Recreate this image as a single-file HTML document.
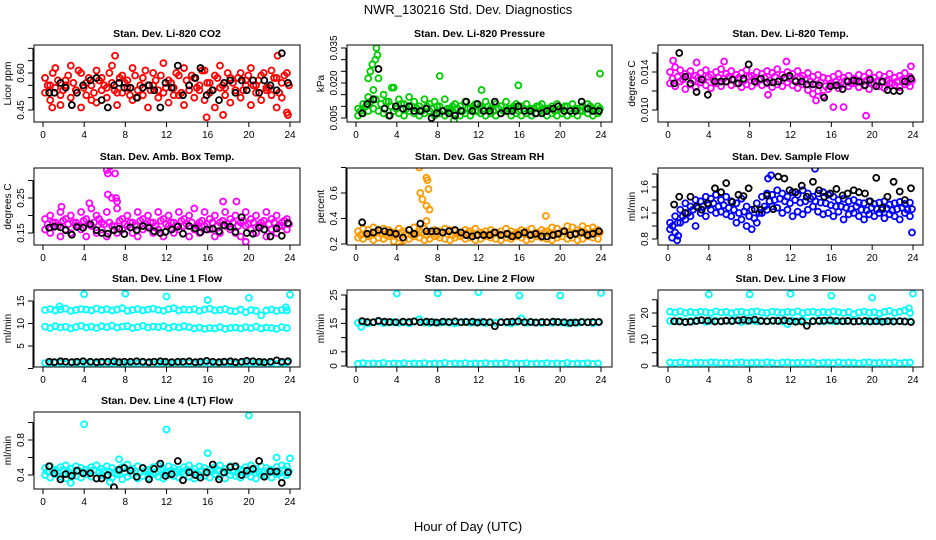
<!DOCTYPE html>
<html>
<head>
<meta charset="utf-8">
<style>
  html,body{margin:0;padding:0;background:#fff;}
  svg{display:block;font-family:"Liberation Sans",Arial,sans-serif;}
</style>
</head>
<body>
<svg id="chart" width="936" height="540" viewBox="0 0 936 540" xmlns="http://www.w3.org/2000/svg">
  <text x="468" y="14" text-anchor="middle" font-size="13">NWR_130216  Std. Dev. Diagnostics</text>
  <text x="468" y="531" text-anchor="middle" font-size="13">Hour of Day (UTC)</text>
</svg>
<script>
// shared hour arrays
const hoursC = [0.2,0.7,1.2,1.7,2.2,2.7,3.2,3.7,4.2,4.7,5.2,5.7,6.2,6.7,7.2,7.7,8.2,8.7,9.2,9.7,10.2,10.7,11.2,11.7,12.2,12.7,13.2,13.7,14.2,14.7,15.2,15.7,16.2,16.7,17.2,17.7,18.2,18.7,19.2,19.7,20.2,20.7,21.2,21.7,22.2,22.7,23.2,23.7];
const hoursM = [0.45,0.95,1.45,1.95,2.45,2.95,3.45,3.95,4.45,4.95,5.45,5.95,6.45,6.95,7.45,7.95,8.45,8.95,9.45,9.95,10.45,10.95,11.45,11.95,12.45,12.95,13.45,13.95,14.45,14.95,15.45,15.95,16.45,16.95,17.45,17.95,18.45,18.95,19.45,19.95,20.45,20.95,21.45,21.95,22.45,22.95,23.45,23.9];
const hoursK = [0.6,1.1,1.7,2.2,2.8,3.3,3.9,4.6,5.2,5.7,6.3,6.9,7.4,7.9,8.5,9.1,9.7,10.3,10.8,11.4,11.9,12.5,13.1,13.6,14.2,14.8,15.3,15.9,16.5,17.1,17.6,18.2,18.7,19.3,19.8,20.4,21.0,21.5,22.1,22.7,23.2,23.8];
const xTicks = [0,4,8,12,16,20,24];

// Panel 1: CO2
const co2A = [0.58,0.55,0.62,0.51,0.57,0.63,0.53,0.60,0.56,0.49,0.61,0.58,0.54,0.63,0.52,0.59,0.57,0.62,0.50,0.58,0.55,0.60,0.53,0.64,0.57,0.51,0.59,0.62,0.55,0.58,0.53,0.61,0.56,0.59,0.63,0.54,0.58,0.52,0.60,0.57,0.62,0.55,0.59,0.53,0.61,0.58,0.56,0.60];
const co2B = [0.52,0.49,0.54,0.47,0.55,0.50,0.53,0.46,0.51,0.55,0.48,0.53,0.50,0.56,0.47,0.52,0.54,0.49,0.53,0.51,0.46,0.55,0.50,0.52,0.48,0.54,0.51,0.47,0.53,0.50,0.55,0.49,0.52,0.46,0.54,0.51,0.48,0.53,0.50,0.55,0.47,0.52,0.49,0.54,0.51,0.46,0.50,0.44];
const co2M = [0.55,0.60,0.57,0.53,0.59,0.56,0.61,0.54,0.58,0.52,0.57,0.55,0.60,0.53,0.58,0.56,0.51,0.59,0.55,0.61,0.53,0.57,0.59,0.54,0.56,0.60,0.52,0.57,0.59,0.54,0.61,0.56,0.53,0.58,0.55,0.60,0.56,0.58,0.53,0.59,0.55,0.57,0.60,0.54,0.58,0.52,0.59,0.55];
const co2K = [0.52,0.52,0.56,0.54,0.47,0.52,0.55,0.57,0.58,0.49,0.46,0.55,0.56,0.54,0.54,0.50,0.54,0.55,0.53,0.46,0.56,0.54,0.63,0.51,0.55,0.58,0.62,0.51,0.53,0.49,0.56,0.57,0.52,0.57,0.53,0.57,0.52,0.57,0.55,0.53,0.68,0.56];
const co2OH = [7.0,22.8,15.9,23.8,17.5,0.9];
const co2OV = [0.67,0.67,0.42,0.43,0.43,0.46];
const co2Ticks = [0.45,0.50,0.55,0.60,0.65,0.70];
const co2Labels = ["0.45","","","0.60","",""];

// Panel 2: Pressure
const prA = [0.009,0.011,0.014,0.017,0.022,0.015,0.012,0.018,0.013,0.011,0.014,0.012,0.010,0.013,0.011,0.012,0.010,0.013,0.009,0.011,0.010,0.012,0.009,0.011,0.010,0.012,0.009,0.011,0.010,0.012,0.009,0.011,0.010,0.011,0.009,0.010,0.011,0.009,0.010,0.011,0.009,0.010,0.011,0.009,0.010,0.011,0.009,0.010];
const prB = [0.006,0.007,0.008,0.009,0.008,0.007,0.006,0.008,0.007,0.006,0.008,0.007,0.006,0.007,0.008,0.006,0.007,0.006,0.008,0.007,0.006,0.007,0.006,0.008,0.007,0.006,0.007,0.006,0.007,0.008,0.006,0.007,0.006,0.007,0.006,0.007,0.008,0.006,0.007,0.006,0.007,0.006,0.007,0.006,0.008,0.007,0.006,0.007];
const prM = [0.008,0.010,0.012,0.013,0.011,0.012,0.010,0.009,0.011,0.009,0.010,0.009,0.008,0.010,0.009,0.010,0.008,0.009,0.010,0.009,0.008,0.009,0.010,0.008,0.009,0.010,0.008,0.009,0.008,0.009,0.010,0.008,0.009,0.008,0.009,0.010,0.008,0.009,0.008,0.009,0.010,0.008,0.009,0.008,0.009,0.010,0.008,0.009];
const prK = [0.007,0.011,0.013,0.026,0.009,0.006,0.010,0.009,0.010,0.008,0.008,0.009,0.005,0.007,0.008,0.007,0.006,0.008,0.012,0.008,0.011,0.008,0.008,0.012,0.007,0.008,0.008,0.010,0.008,0.008,0.007,0.007,0.008,0.009,0.010,0.008,0.008,0.008,0.012,0.009,0.008,0.008];
const prOH = [1.2,1.6,2.0,1.9,3.5,8.2,12.3,15.9,23.9,2.1,1.4,9.6];
const prOV = [0.022,0.028,0.035,0.030,0.018,0.023,0.017,0.019,0.024,0.032,0.025,0.004];
const prTicks = [0.005,0.010,0.015,0.020,0.025,0.030,0.035];
const prLabels = ["0.005","","","0.020","","","0.035"];

// Panel 3: Li-820 Temp
const tpA = [0.0140,0.0145,0.0142,0.0138,0.0141,0.0136,0.0139,0.0142,0.0137,0.0140,0.0143,0.0138,0.0141,0.0137,0.0139,0.0142,0.0136,0.0140,0.0138,0.0141,0.0139,0.0143,0.0137,0.0140,0.0138,0.0141,0.0136,0.0139,0.0135,0.0137,0.0134,0.0133,0.0135,0.0138,0.0134,0.0136,0.0133,0.0137,0.0135,0.0139,0.0134,0.0137,0.0135,0.0138,0.0134,0.0136,0.0139,0.0135];
const tpB = [0.0128,0.0125,0.0130,0.0122,0.0127,0.0124,0.0129,0.0126,0.0123,0.0128,0.0125,0.0130,0.0126,0.0128,0.0124,0.0127,0.0125,0.0129,0.0126,0.0128,0.0124,0.0127,0.0125,0.0129,0.0126,0.0123,0.0127,0.0121,0.0117,0.0120,0.0115,0.0122,0.0126,0.0123,0.0127,0.0125,0.0128,0.0124,0.0126,0.0122,0.0127,0.0125,0.0123,0.0128,0.0126,0.0124,0.0127,0.0125];
const tpM = [0.0133,0.0135,0.0132,0.0136,0.0131,0.0134,0.0132,0.0135,0.0131,0.0134,0.0133,0.0135,0.0132,0.0134,0.0131,0.0135,0.0133,0.0132,0.0134,0.0131,0.0135,0.0132,0.0134,0.0133,0.0131,0.0134,0.0132,0.0130,0.0127,0.0129,0.0125,0.0128,0.0130,0.0129,0.0131,0.0128,0.0130,0.0129,0.0131,0.0128,0.0130,0.0129,0.0131,0.0128,0.0130,0.0132,0.0129,0.0131];
const tpK = [0.0128,0.0160,0.0135,0.0128,0.0119,0.0132,0.0116,0.0130,0.0130,0.0130,0.0132,0.0128,0.0133,0.0148,0.0130,0.0133,0.0129,0.0129,0.0130,0.0134,0.0136,0.0130,0.0130,0.0127,0.0127,0.0126,0.0113,0.0125,0.0126,0.0122,0.0130,0.0131,0.0130,0.0126,0.0132,0.0125,0.0130,0.0121,0.0120,0.0120,0.0130,0.0133];
const tpOH = [0.5,2.8,5.5,11.6,16.2,17.2,19.4,14.5,9.8,23.8];
const tpOV = [0.0152,0.0150,0.0151,0.0151,0.0103,0.0103,0.0094,0.0110,0.0116,0.0146];
const tpTicks = [0.010,0.012,0.014,0.016];
const tpLabels = ["0.010","","0.014",""];

// Panel 4: Amb Box Temp
const abA = [0.19,0.20,0.18,0.21,0.19,0.20,0.18,0.21,0.19,0.22,0.20,0.18,0.21,0.25,0.22,0.19,0.20,0.18,0.21,0.19,0.20,0.18,0.21,0.19,0.20,0.18,0.21,0.19,0.20,0.22,0.18,0.21,0.19,0.20,0.18,0.21,0.19,0.20,0.18,0.21,0.19,0.20,0.18,0.21,0.19,0.20,0.18,0.19];
const abB = [0.16,0.15,0.17,0.14,0.16,0.15,0.17,0.16,0.14,0.17,0.15,0.16,0.14,0.17,0.15,0.16,0.17,0.15,0.14,0.16,0.17,0.15,0.16,0.14,0.17,0.15,0.16,0.17,0.14,0.16,0.15,0.17,0.16,0.14,0.15,0.17,0.16,0.15,0.14,0.17,0.16,0.15,0.17,0.14,0.16,0.15,0.17,0.16];
const abM = [0.175,0.18,0.17,0.185,0.175,0.18,0.17,0.185,0.175,0.18,0.19,0.175,0.18,0.17,0.185,0.175,0.18,0.17,0.185,0.175,0.18,0.17,0.185,0.175,0.18,0.17,0.185,0.175,0.18,0.17,0.185,0.175,0.18,0.17,0.185,0.175,0.18,0.17,0.185,0.175,0.18,0.17,0.185,0.175,0.18,0.17,0.185,0.175];
const abK = [0.165,0.168,0.166,0.158,0.145,0.167,0.165,0.175,0.158,0.150,0.148,0.158,0.162,0.147,0.166,0.158,0.170,0.165,0.155,0.150,0.153,0.160,0.168,0.148,0.170,0.163,0.152,0.160,0.162,0.155,0.172,0.168,0.153,0.195,0.150,0.148,0.165,0.160,0.140,0.163,0.142,0.178];
const abOH = [6.2,6.3,6.5,7.0,7.1,7.2,6.3,17.5,18.8,4.5,1.8,19.7];
const abOV = [0.33,0.32,0.34,0.32,0.25,0.24,0.26,0.24,0.24,0.235,0.225,0.125];
const abTicks = [0.15,0.20,0.25,0.30];
const abLabels = ["0.15","","0.25",""];

// Panel 5: Gas Stream RH
const rhA = [0.30,0.32,0.31,0.33,0.30,0.32,0.31,0.29,0.32,0.30,0.31,0.33,0.30,0.32,0.29,0.31,0.30,0.32,0.31,0.30,0.29,0.31,0.30,0.32,0.29,0.30,0.31,0.29,0.30,0.32,0.30,0.29,0.31,0.30,0.32,0.29,0.31,0.30,0.33,0.32,0.30,0.34,0.33,0.31,0.34,0.32,0.33,0.31];
const rhB = [0.25,0.24,0.26,0.23,0.25,0.24,0.26,0.22,0.25,0.23,0.24,0.26,0.25,0.23,0.24,0.26,0.25,0.24,0.23,0.25,0.26,0.24,0.25,0.23,0.24,0.26,0.25,0.24,0.23,0.25,0.24,0.26,0.25,0.23,0.24,0.26,0.25,0.24,0.23,0.25,0.26,0.24,0.25,0.23,0.24,0.26,0.25,0.24];
const rhM = [0.27,0.28,0.27,0.29,0.28,0.27,0.28,0.27,0.29,0.28,0.27,0.28,0.29,0.27,0.28,0.27,0.29,0.28,0.27,0.28,0.27,0.29,0.28,0.27,0.28,0.27,0.29,0.28,0.27,0.28,0.27,0.29,0.28,0.27,0.28,0.27,0.29,0.28,0.27,0.28,0.30,0.29,0.28,0.30,0.29,0.28,0.30,0.29];
const rhK = [0.37,0.28,0.29,0.31,0.30,0.29,0.28,0.25,0.31,0.28,0.36,0.30,0.30,0.30,0.29,0.30,0.31,0.29,0.27,0.26,0.27,0.27,0.27,0.29,0.27,0.28,0.26,0.27,0.29,0.27,0.28,0.26,0.26,0.27,0.28,0.30,0.27,0.28,0.29,0.27,0.28,0.30];
const rhOH = [6.2,6.3,6.5,6.9,7.0,7.1,6.9,7.2,6.9,18.6,4.4];
const rhOV = [0.80,0.60,0.55,0.72,0.70,0.63,0.50,0.47,0.38,0.42,0.18];
const rhTicks = [0.2,0.4,0.6,0.8];
const rhLabels = ["0.2","0.4","0.6",""];

// Panel 6: Sample Flow
const sfA = [1.05,1.15,1.25,1.35,1.30,1.40,1.38,1.45,1.42,1.48,1.40,1.45,1.38,1.35,1.42,1.30,1.25,1.35,1.45,1.50,1.48,1.55,1.50,1.45,1.52,1.48,1.55,1.50,1.45,1.50,1.52,1.48,1.45,1.40,1.42,1.38,1.40,1.36,1.35,1.38,1.34,1.36,1.38,1.33,1.35,1.37,1.34,1.36];
const sfB = [0.95,0.90,1.05,1.10,1.15,1.00,1.20,1.15,1.25,1.20,1.22,1.18,1.15,1.05,1.10,1.00,0.95,1.05,1.20,1.25,1.30,1.28,1.20,1.25,1.15,1.22,1.18,1.25,1.30,1.22,1.18,1.20,1.15,1.22,1.10,1.18,1.20,1.15,1.10,1.18,1.15,1.20,1.12,1.18,1.15,1.10,1.20,1.15];
const sfM = [1.00,1.05,1.15,1.20,1.25,1.28,1.30,1.32,1.35,1.30,1.32,1.28,1.25,1.20,1.22,1.15,1.12,1.20,1.30,1.38,1.40,1.42,1.38,1.35,1.40,1.36,1.38,1.42,1.38,1.36,1.35,1.32,1.30,1.30,1.28,1.26,1.30,1.25,1.24,1.28,1.26,1.25,1.27,1.24,1.26,1.28,1.25,1.26];
const sfK = [1.33,1.45,1.20,1.45,1.30,1.25,1.35,1.58,1.52,1.66,1.37,1.48,1.46,1.58,1.26,1.25,1.47,1.26,1.76,1.73,1.55,1.52,1.62,1.45,1.68,1.55,1.45,1.50,1.57,1.47,1.50,1.55,1.52,1.50,1.38,1.74,1.28,1.45,1.68,1.53,1.40,1.58];
const sfOH = [14.4,0.4,1.0,0.9,9.8,10.1,23.9];
const sfOV = [1.88,0.82,0.85,0.78,1.73,1.78,0.90];
const sfTicks = [0.8,1.0,1.2,1.4,1.6,1.8];
const sfLabels = ["0.8","","1.2","","1.6",""];

// Panel 7: Line 1 Flow
const l1A = [13.0,13.2,12.9,13.1,13.3,12.8,13.0,13.2,13.1,12.9,13.3,13.0,13.2,12.9,13.1,13.4,12.8,13.0,13.2,12.9,13.1,13.3,13.0,12.8,13.2,13.4,12.9,13.1,13.0,13.2,12.8,13.1,13.3,12.9,13.0,13.2,12.8,12.7,13.1,12.5,13.0,12.8,11.8,12.9,13.1,12.8,13.0,12.9];
const l1B = [9.3,9.0,9.4,9.1,9.3,8.9,9.2,9.5,9.1,9.3,9.0,9.4,9.2,9.5,9.1,9.3,9.4,9.0,9.2,9.5,9.1,9.3,9.2,9.4,9.0,9.3,9.1,9.4,9.2,8.9,9.1,8.8,9.0,8.9,9.2,8.8,9.0,9.1,8.9,9.2,9.0,9.3,8.9,9.1,9.0,8.8,9.2,9.0];
const l1C = [1.2,1.1,1.3,1.2,1.0,1.3,1.2,1.1,1.2,1.3,1.1,1.2,1.0,1.2,1.3,1.1,1.2,1.2,1.1,1.3,1.2,1.0,1.2,1.3,1.1,1.2,1.3,1.1,1.2,1.0,1.2,1.3,1.1,1.2,1.1,1.3,1.2,1.0,1.2,1.3,1.1,1.2,1.3,1.1,1.2,1.0,1.2,1.3];
const l1K = [1.5,1.4,1.6,1.5,1.4,1.5,1.6,1.5,1.4,1.5,1.5,1.6,1.4,1.5,1.5,1.6,1.5,1.4,1.5,1.6,1.5,1.4,1.5,1.5,1.6,1.4,1.5,1.7,1.5,1.4,1.5,1.6,1.4,1.5,1.7,1.6,1.5,1.4,1.5,1.8,1.5,1.6];
const l1OH = [4,8,12,16,20,24,1.6,23.6];
const l1OV = [16.5,16.6,16.0,15.2,15.7,16.4,13.8,13.6];
const l1Ticks = [0,5,10,15];
const l1Labels = ["","5","10","15"];

// Panel 8: Line 2 Flow
const l2A = [15.2,15.5,15.0,15.4,15.6,15.1,15.3,15.5,15.2,15.4,15.0,15.6,16.5,15.3,15.1,15.4,15.2,15.5,15.3,15.0,15.4,15.6,15.2,15.3,15.5,15.1,15.4,15.2,15.5,15.3,15.0,15.4,16.8,15.2,15.5,15.3,15.1,15.4,15.2,15.5,15.3,15.0,15.4,15.2,15.5,15.3,15.1,15.4];
const l2B = [0.8,1.0,0.7,0.9,0.8,1.1,0.7,0.9,0.8,1.0,0.7,0.9,0.8,1.0,0.7,0.9,0.8,1.1,0.7,0.9,0.8,1.0,0.7,0.9,0.8,1.0,0.7,0.9,0.8,1.1,0.7,0.9,0.8,1.0,0.7,0.9,0.8,1.0,0.7,0.9,0.8,1.1,0.7,0.9,0.8,1.0,0.7,0.9];
const l2K = [15.8,15.5,15.4,15.9,15.6,15.5,15.4,15.6,15.5,15.7,15.4,15.6,15.5,15.3,15.6,15.5,15.7,15.4,15.5,15.6,15.3,15.5,15.4,14.0,15.4,15.5,15.6,15.7,15.4,15.5,15.3,15.5,15.4,15.6,15.5,15.4,15.2,15.3,15.5,15.4,15.5,15.5];
const l2OH = [4,8,12,16,20,24,0.5];
const l2OV = [25.5,25.6,26.0,24.8,24.8,25.7,13.8];
const l2Ticks = [0,5,10,15,20,25];
const l2Labels = ["0","5","","15","","25"];

// Panel 9: Line 3 Flow
const l3A = [20.5,20.2,20.6,20.0,20.4,20.1,20.5,20.3,20.0,20.6,20.2,20.4,19.9,20.3,20.5,20.1,20.4,20.6,20.2,20.0,20.5,20.3,20.1,20.4,20.2,20.6,20.0,20.3,20.5,20.1,20.4,20.2,20.6,20.3,20.0,20.4,19.5,20.2,20.5,20.1,20.3,19.8,20.4,20.8,20.1,20.5,21.0,20.0];
const l3B = [17.0,16.8,17.2,16.5,17.1,16.9,17.3,16.7,17.0,17.2,16.8,17.1,16.9,17.3,16.6,17.0,17.2,16.8,17.1,16.9,17.0,17.2,16.8,15.8,17.1,16.9,17.3,16.7,17.0,17.2,16.8,17.1,16.9,17.0,16.8,17.1,16.9,17.0,16.7,17.1,16.9,17.0,16.8,17.1,16.9,17.0,16.8,16.9];
const l3C = [1.3,1.1,1.4,1.2,1.0,1.3,1.2,1.1,1.4,1.3,1.1,1.2,1.0,1.3,1.4,1.1,1.2,1.3,1.1,1.4,1.2,1.0,1.3,1.4,1.1,1.2,1.3,1.1,1.4,1.0,1.2,1.3,1.1,1.4,1.1,1.3,1.2,1.0,1.3,1.4,1.1,1.2,1.3,1.1,1.4,1.0,1.2,1.3];
const l3K = [16.9,16.8,16.6,16.7,17.0,17.3,17.1,16.8,16.9,17.1,17.0,17.2,17.4,17.1,17.5,17.0,16.9,17.1,17.0,17.2,16.9,16.7,16.8,15.2,16.9,17.0,17.1,17.2,17.0,16.9,17.0,16.8,16.9,17.0,16.8,16.9,16.7,16.9,16.8,16.9,16.8,16.6];
const l3OH = [4,8,12,16,20,24,23.6];
const l3OV = [27.0,27.0,27.2,26.5,25.8,27.3,21.8];
const l3Ticks = [0,5,10,15,20,25];
const l3Labels = ["0","","10","","20",""];

// Panel 10: Line 4 (LT) Flow
const l4A = [0.48,0.50,0.46,0.49,0.51,0.47,0.50,0.48,0.46,0.49,0.51,0.47,0.50,0.48,0.46,0.49,0.52,0.47,0.50,0.48,0.46,0.49,0.51,0.47,0.50,0.48,0.46,0.49,0.51,0.47,0.50,0.48,0.46,0.49,0.51,0.47,0.50,0.48,0.46,0.49,0.51,0.47,0.50,0.48,0.46,0.49,0.51,0.50];
const l4B = [0.40,0.37,0.41,0.38,0.36,0.40,0.39,0.37,0.41,0.38,0.36,0.40,0.39,0.37,0.41,0.35,0.38,0.40,0.36,0.39,0.37,0.41,0.38,0.36,0.40,0.39,0.37,0.41,0.38,0.36,0.40,0.39,0.37,0.41,0.38,0.36,0.40,0.39,0.37,0.41,0.38,0.36,0.40,0.39,0.37,0.41,0.38,0.40];
const l4M = [0.44,0.45,0.43,0.46,0.44,0.42,0.45,0.43,0.44,0.46,0.43,0.45,0.44,0.42,0.45,0.43,0.46,0.44,0.43,0.45,0.44,0.42,0.46,0.43,0.45,0.44,0.43,0.46,0.44,0.42,0.45,0.43,0.44,0.46,0.43,0.45,0.44,0.42,0.45,0.43,0.46,0.44,0.43,0.45,0.44,0.42,0.46,0.44];
const l4K = [0.50,0.42,0.35,0.41,0.39,0.45,0.42,0.42,0.36,0.36,0.40,0.26,0.46,0.48,0.45,0.38,0.48,0.35,0.47,0.53,0.39,0.41,0.56,0.34,0.43,0.40,0.37,0.43,0.52,0.35,0.43,0.49,0.50,0.40,0.45,0.47,0.56,0.38,0.44,0.44,0.31,0.43];
const l4OH = [4,12,20,16,22.7,7.4,24,2.7,6.5];
const l4OV = [0.98,0.92,1.08,0.65,0.60,0.58,0.59,0.31,0.32];
const l4Ticks = [0.4,0.6,0.8,1.0];
const l4Labels = ["0.4","","0.8",""];

const cols = [{L:34,R:300,x0:43,x24:290},{L:347,R:612,x0:356,x24:601},{L:658,R:923,x0:668,x24:913}];
const rowTops = [45,168,290,412];
const boxH = 77;

const panels = [
 {name:"co2",title:"Stan. Dev. Li-820 CO2",ylab:"Licor ppm",col:0,row:0,color:"#ff0000",series:[[hoursC,co2A],[hoursC,co2B],[hoursM,co2M]],k:co2K,oh:co2OH,ov:co2OV,ticks:co2Ticks,labels:co2Labels,ref:[0.45,110,0.60,73]},
 {name:"pressure",title:"Stan. Dev. Li-820 Pressure",ylab:"kPa",col:1,row:0,color:"#00cd00",series:[[hoursC,prA],[hoursC,prB],[hoursM,prM]],k:prK,oh:prOH,ov:prOV,ticks:prTicks,labels:prLabels,ref:[0.005,118,0.035,48]},
 {name:"li820-temp",title:"Stan. Dev. Li-820 Temp.",ylab:"degrees C",col:2,row:0,color:"#ff00ff",series:[[hoursC,tpA],[hoursC,tpB],[hoursM,tpM]],k:tpK,oh:tpOH,ov:tpOV,ticks:tpTicks,labels:tpLabels,ref:[0.010,110,0.014,72]},
 {name:"amb-box-temp",title:"Stan. Dev. Amb. Box Temp.",ylab:"degrees C",col:0,row:1,color:"#ff00ff",series:[[hoursC,abA],[hoursC,abB],[hoursM,abM]],k:abK,oh:abOH,ov:abOV,ticks:abTicks,labels:abLabels,ref:[0.15,233,0.25,198]},
 {name:"gas-stream-rh",title:"Stan. Dev. Gas Stream RH",ylab:"percent",col:1,row:1,color:"#ff9a00",series:[[hoursC,rhA],[hoursC,rhB],[hoursM,rhM]],k:rhK,oh:rhOH,ov:rhOV,ticks:rhTicks,labels:rhLabels,ref:[0.2,244,0.6,193]},
 {name:"sample-flow",title:"Stan. Dev. Sample Flow",ylab:"ml/min",col:2,row:1,color:"#0000ff",series:[[hoursC,sfA],[hoursC,sfB],[hoursM,sfM]],k:sfK,oh:sfOH,ov:sfOV,ticks:sfTicks,labels:sfLabels,ref:[0.8,239,1.6,187]},
 {name:"line1-flow",title:"Stan. Dev. Line 1 Flow",ylab:"ml/min",col:0,row:2,color:"#00ffff",series:[[hoursC,l1A],[hoursC,l1B],[hoursC,l1C]],k:l1K,oh:l1OH,ov:l1OV,ticks:l1Ticks,labels:l1Labels,ref:[5,346,15,301]},
 {name:"line2-flow",title:"Stan. Dev. Line 2 Flow",ylab:"ml/min",col:1,row:2,color:"#00ffff",series:[[hoursC,l2A],[hoursC,l2B]],k:l2K,oh:l2OH,ov:l2OV,ticks:l2Ticks,labels:l2Labels,ref:[0,366,25,295]},
 {name:"line3-flow",title:"Stan. Dev. Line 3 Flow",ylab:"ml/min",col:2,row:2,color:"#00ffff",series:[[hoursC,l3A],[hoursC,l3B],[hoursC,l3C]],k:l3K,oh:l3OH,ov:l3OV,ticks:l3Ticks,labels:l3Labels,ref:[0,366,20,313]},
 {name:"line4-flow",title:"Stan. Dev. Line 4 (LT) Flow",ylab:"ml/min",col:0,row:3,color:"#00ffff",series:[[hoursC,l4A],[hoursC,l4B],[hoursM,l4M]],k:l4K,oh:l4OH,ov:l4OV,ticks:l4Ticks,labels:l4Labels,ref:[0.4,475,0.8,440]}
];

const NS = "http://www.w3.org/2000/svg";
const svg = document.getElementById("chart");
function mk(tag, attrs, parent){
  const e = document.createElementNS(NS, tag);
  for (const k in attrs) e.setAttribute(k, attrs[k]);
  (parent||svg).appendChild(e);
  return e;
}
const R = 3, SW = 1.8;

panels.forEach(p => {
  const c = cols[p.col];
  const top = rowTops[p.row], bot = top + boxH;
  const xs = h => c.x0 + (c.x24 - c.x0) * h / 24;
  const ys = v => p.ref[1] + (v - p.ref[0]) * (p.ref[3] - p.ref[1]) / (p.ref[2] - p.ref[0]);
  const g = mk("g", {});
  
  

  const t = mk("text", {x:(c.L+c.R)/2, y:top-8, "text-anchor":"middle", "font-size":"10.5", "font-weight":"bold"}, g);
  t.textContent = p.title;
  
  

  const clip = mk("clipPath", {id:"clip-"+p.name}, g);
  mk("rect", {x:c.L, y:top, width:c.R-c.L, height:boxH}, clip);
  const pts = mk("g", {"clip-path":"url(#clip-"+p.name+")"}, g);
  
  

  p.series.forEach(s => {
    const hrs = s[0], arr = s[1];
    arr.forEach((v,i) => {
      const m = mk("circle", {cx:xs(hrs[i]), cy:ys(v), r:R, fill:"none", stroke:p.color, "stroke-width":SW}, pts);
      
      
    });
  });
  p.oh.forEach((h,i) => {
    const m = mk("circle", {cx:xs(h), cy:ys(p.ov[i]), r:R, fill:"none", stroke:p.color, "stroke-width":SW}, pts);
    
    
  });
  p.k.forEach((v,i) => {
    const m = mk("circle", {cx:xs(hoursK[i]), cy:ys(v), r:R, fill:"none", stroke:"#000", "stroke-width":SW}, pts);
    
    
  });

  const box = mk("rect", {x:c.L, y:top, width:c.R-c.L, height:boxH, fill:"none", stroke:"#000", "stroke-width":1}, g);
  
  

  const xa = mk("g", {}, g);
  
  
  mk("line", {x1:xs(0), x2:xs(24), y1:bot, y2:bot, stroke:"#000"}, xa);
  xTicks.forEach(h => {
    mk("line", {x1:xs(h), x2:xs(h), y1:bot, y2:bot+5, stroke:"#000"}, xa);
    const tl = mk("text", {x:xs(h), y:bot+16, "text-anchor":"middle", "font-size":"10"}, xa);
    tl.textContent = h;
  });

  const ya = mk("g", {}, g);
  
  
  const yTop = ys(p.ticks[p.ticks.length-1]), yBot = ys(p.ticks[0]);
  mk("line", {x1:c.L-1, x2:c.L-1, y1:yTop, y2:yBot, stroke:"#000"}, ya);
  p.ticks.forEach((v,i) => {
    const y = ys(v);
    mk("line", {x1:c.L-6, x2:c.L-1, y1:y, y2:y, stroke:"#000"}, ya);
    if (p.labels[i]) {
      const tl = mk("text", {x:0, y:0, "text-anchor":"middle", "font-size":"10", transform:"translate("+(c.L-10)+","+y+") rotate(-90)"}, ya);
      tl.textContent = p.labels[i];
    }
  });
  const yl = mk("text", {x:0, y:0, "text-anchor":"middle", "font-size":"10", transform:"translate("+(c.L-23)+","+(top+boxH/2)+") rotate(-90)"}, g);
  yl.textContent = p.ylab;
  
  
});
</script>
</body>
</html>
